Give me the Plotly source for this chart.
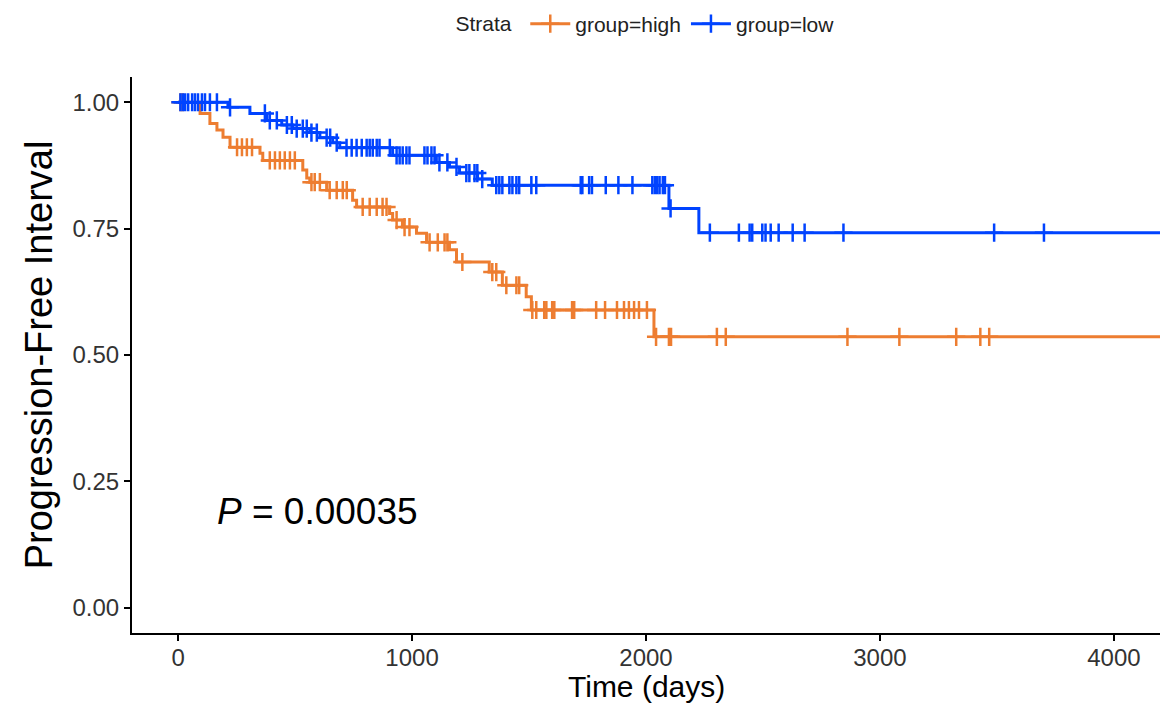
import numpy as np
import plotly.graph_objects as go

# ---- data ----
high_times = [0, 94, 136, 166, 192, 222, 350, 362, 533, 550, 563, 635, 746, 763, 904, 917,
              959, 1019, 1062, 1160, 1190, 1330, 1386, 1488, 1510, 2034]
high_surv = [1.0, 0.978, 0.958, 0.945, 0.931, 0.911, 0.899, 0.885, 0.866, 0.85, 0.842, 0.826,
             0.806, 0.793, 0.78, 0.767, 0.753, 0.741, 0.723, 0.708, 0.684, 0.664, 0.638, 0.615,
             0.589, 0.536]
high_censor = [10, 20, 252, 273, 294, 316, 392, 414, 435, 456, 478, 499, 570, 584, 606, 648, 678,
               704, 721, 789, 819, 849, 874, 891, 934, 968, 989, 1075, 1110, 1139, 1151, 1215,
               1343, 1360, 1403, 1446, 1458, 1514, 1531, 1565, 1574, 1599, 1608, 1684, 1693, 1787,
               1825, 1876, 1906, 1927, 1949, 1970, 2004, 2043, 2098, 2107, 2303, 2341, 2861, 3083,
               3326, 3429, 3467]

low_times = [0, 213, 307, 380, 443, 490, 563, 606, 661, 691, 917, 1104, 1160, 1203, 1280, 1343,
             2098, 2226]
low_surv = [1.0, 0.99, 0.978, 0.964, 0.955, 0.948, 0.94, 0.93, 0.92, 0.91, 0.895, 0.881, 0.872,
            0.86, 0.848, 0.836, 0.79, 0.742]
low_censor = [10, 20, 30, 43, 60, 72, 85, 102, 115, 136, 166, 222, 371, 392, 422, 465, 486, 507,
              533, 550, 570, 593, 635, 650, 678, 720, 742, 763, 785, 806, 819, 832, 849, 861, 905,
              934, 947, 960, 976, 989, 1053, 1066, 1083, 1096, 1117, 1151, 1190, 1232, 1245, 1267,
              1279, 1300, 1360, 1373, 1386, 1416, 1429, 1446, 1458, 1510, 1531, 1721, 1728, 1757,
              1769, 1828, 1882, 1942, 2027, 2038, 2048, 2058, 2072, 2081, 2105, 2273, 2397, 2443,
              2454, 2497, 2511, 2533, 2567, 2627, 2678, 2844, 3488, 3701]

follow_up_end = 4300
x_ticks = [0, 1000, 2000, 3000, 4000]
y_ticks = [0.0, 0.25, 0.5, 0.75, 1.0]
y_tick_text = ["0.00", "0.25", "0.50", "0.75", "1.00"]
p_text = "<i>P</i> = 0.00035"
x_title = "Time (days)"
y_title = "Progression-Free Interval"

COL_HIGH = "#ED7D31"
COL_LOW = "#0043FF"
FONT = "Liberation Sans, Arial"


def step_at(times, surv, t):
    idx = np.searchsorted(np.asarray(times), np.asarray(t), side="right") - 1
    return np.asarray(surv)[idx]


fig = go.Figure()
for name, times, surv, cens, col in [
    ("group=high", high_times, high_surv, high_censor, COL_HIGH),
    ("group=low", low_times, low_surv, low_censor, COL_LOW),
]:
    xs = list(times) + [follow_up_end]
    ys = list(surv) + [surv[-1]]
    fig.add_trace(go.Scatter(x=xs, y=ys, mode="lines", line=dict(color=col, width=3, shape="hv"),
                             showlegend=False, hoverinfo="skip"))
    fig.add_trace(go.Scatter(x=cens, y=step_at(times, surv, cens), mode="markers",
                             marker=dict(symbol="cross-thin", size=13,
                                         line=dict(color=col, width=2.5)),
                             showlegend=False))
    fig.add_trace(go.Scatter(x=[None], y=[None], mode="lines+markers", name=name,
                             line=dict(color=col, width=3),
                             marker=dict(symbol="cross-thin", size=13,
                                         line=dict(color=col, width=2.5))))

fig.add_annotation(x=158, y=0.19, xref="x", yref="y", text=p_text, showarrow=False,
                   xanchor="left", yanchor="middle",
                   font=dict(family=FONT, size=37, color="black"))
# x axis title placed below the tick labels
fig.add_annotation(x=0.5, y=-0.097, xref="paper", yref="paper", text=x_title, showarrow=False,
                   xanchor="center", yanchor="middle",
                   font=dict(family=FONT, size=30, color="black"))

fig.update_layout(
    width=1171, height=703,
    margin=dict(l=132, r=11, t=77, b=70),
    paper_bgcolor="white", plot_bgcolor="white",
    font=dict(family=FONT, color="#222222"),
    legend=dict(orientation="h", x=0.552, xanchor="center", xref="container",
                y=0.995, yanchor="top", yref="container",
                title=dict(text="Strata ", font=dict(size=21, color="#222222"), side="left"),
                font=dict(size=21, color="#222222"), itemwidth=40),
    xaxis=dict(range=[-197, 4197], tickvals=x_ticks, showgrid=False, zeroline=False,
               showline=True, linecolor="black", linewidth=2, ticks="outside", ticklen=6,
               tickwidth=2, tickcolor="black", automargin=False, ticklabelstandoff=-4,
               tickfont=dict(size=24, color="#333333")),
    yaxis=dict(range=[-0.05, 1.05], tickvals=y_ticks, ticktext=y_tick_text, showgrid=False,
               zeroline=False, showline=True, linecolor="black", linewidth=2, ticks="outside",
               ticklen=6, tickwidth=2, tickcolor="black", automargin=False,
               tickfont=dict(size=24, color="#333333"),
               title=dict(text=y_title, font=dict(size=38, color="black"), standoff=8)),
)

fig.write_html("out.html")
